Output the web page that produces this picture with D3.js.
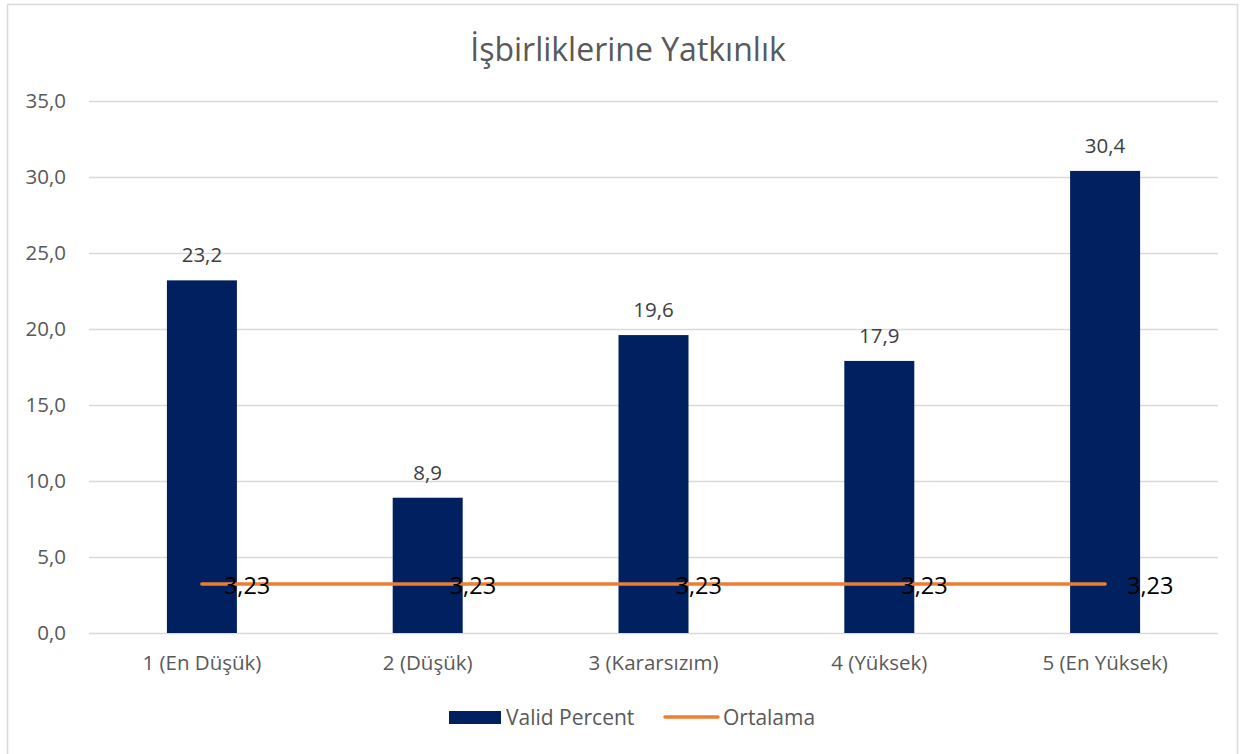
<!DOCTYPE html>
<html>
<head>
<meta charset="utf-8">
<script src="https://cdn.jsdelivr.net/npm/d3@7"></script>
<style>
  body { margin: 0; background: #fff; }
  svg { font-family: "Open Sans", "Noto Sans", sans-serif; }
</style>
</head>
<body>
<svg id="chart"></svg>
<script>
// data
let categories = ["1 (En Düşük)", "2 (Düşük)", "3 (Kararsızım)", "4 (Yüksek)", "5 (En Yüksek)"];
let validPercent = [23.2, 8.9, 19.6, 17.9, 30.4];
let ortalama = [3.23, 3.23, 3.23, 3.23, 3.23];
let yTicks = [0, 5, 10, 15, 20, 25, 30, 35];

let width = 1247, height = 754;
let margin = {top: 101, bottom: 121, left: 89, right: 29};
let bodyW = width - margin.left - margin.right;
let bodyH = height - margin.top - margin.bottom;

let svg = d3.select("#chart").attr("width", width).attr("height", height);
let fmt = v => v.toFixed(1).replace(".", ",");

// outer frame
svg.append("rect")
    .attr("x", 7.5).attr("y", 4.5)
    .attr("width", 1230).attr("height", 760)
    .attr("fill", "none").attr("stroke", "#d9d9d9").attr("stroke-width", 1.5);

svg.append("text")
    .attr("x", 628).attr("y", 61)
    .attr("text-anchor", "middle")
    .attr("font-size", 32)
    .attr("fill", "#595959")
    .text("İşbirliklerine Yatkınlık");

let xScale = d3.scaleBand().domain(categories).range([0, bodyW]);
let yScale = d3.scaleLinear().domain([0, 35]).range([bodyH, 0]);

let body = svg.append("g").attr("transform", `translate(${margin.left},${margin.top})`);

// gridlines + y labels
let yAx = d3.axisLeft(yScale).tickValues(yTicks).tickSize(-bodyW).tickFormat(fmt).tickPadding(23);
body.append("g").call(yAx)
    .call(g => g.select(".domain").remove())
    .call(g => g.selectAll("line").attr("stroke", "#d9d9d9").attr("stroke-width", 1.3))
    .call(g => g.selectAll("text").attr("fill", "#595959").attr("font-size", 20.5)
        .attr("font-family", "'Open Sans', sans-serif"));

let xAx = d3.axisBottom(xScale).tickSize(0).tickPadding(22);
body.append("g").attr("transform", `translate(0,${bodyH})`).call(xAx)
    .call(g => g.select(".domain").remove())
    .call(g => g.selectAll("text").attr("fill", "#595959").attr("font-size", 20.5)
        .attr("font-family", "'Open Sans', sans-serif"));

let barW = 70;
let cx = d => xScale(d) + xScale.bandwidth() / 2;

body.selectAll(".bar")
    .data(validPercent)
    .enter()
    .append("rect")
    .attr("x", (d, i) => cx(categories[i]) - barW / 2)
    .attr("y", d => yScale(d))
    .attr("width", barW)
    .attr("height", d => bodyH - yScale(d))
    .attr("fill", "#002060");

body.selectAll(".barLabel")
    .data(validPercent)
    .enter()
    .append("text")
    .attr("x", (d, i) => cx(categories[i]))
    .attr("y", d => yScale(d) - 18)
    .attr("text-anchor", "middle")
    .attr("font-size", 20.5)
    .attr("fill", "#404040")
    .text(fmt);

let line = d3.line()
    .x((d, i) => cx(categories[i]))
    .y(d => yScale(d));
body.append("path")
    .datum(ortalama)
    .attr("d", line)
    .attr("fill", "none")
    .attr("stroke", "#ED7D31")
    .attr("stroke-width", 3.5)
    .attr("stroke-linecap", "round");

body.selectAll(".lineLabel")
    .data(ortalama)
    .enter()
    .append("text")
    .attr("x", (d, i) => cx(categories[i]) + 22)
    .attr("y", d => yScale(d) + 10)
    .attr("font-size", 23.5)
    .attr("fill", "#000")
    .text(d => d.toFixed(2).replace(".", ","));

// legend
let legend = svg.append("g");
legend.append("rect").attr("x", 449).attr("y", 711).attr("width", 52).attr("height", 13).attr("fill", "#002060");
legend.append("text").attr("x", 506).attr("y", 725).attr("font-size", 21).attr("fill", "#595959").text("Valid Percent");
legend.append("line").attr("x1", 665).attr("x2", 718).attr("y1", 717).attr("y2", 717)
    .attr("stroke", "#ED7D31").attr("stroke-width", 3.5).attr("stroke-linecap", "round");
legend.append("text").attr("x", 723).attr("y", 725).attr("font-size", 21).attr("fill", "#595959").text("Ortalama");
</script>
</body>
</html>
